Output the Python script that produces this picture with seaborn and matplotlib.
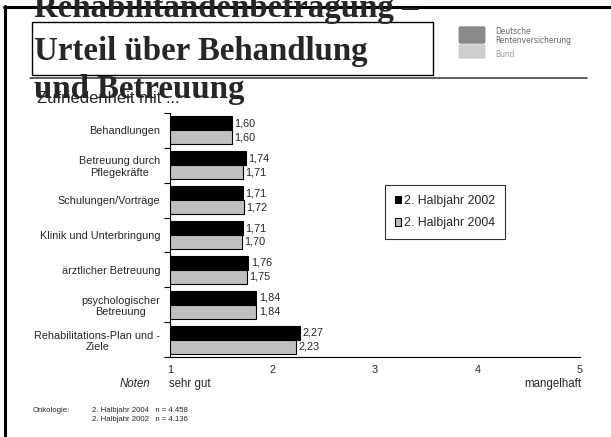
import pandas as pd
import seaborn as sns
import matplotlib.pyplot as plt
from matplotlib.patches import Rectangle, FancyBboxPatch
from matplotlib.lines import Line2D

# chart values
categories = ["Behandlungen", "Betreuung durch\nPflegekräfte", "Schulungen/Vorträge",
              "Klinik und Unterbringung", "ärztlicher Betreuung",
              "psychologischer\nBetreuung", "Rehabilitations-Plan und -\nZiele"]
series_names = ["2. Halbjahr 2002", "2. Halbjahr 2004"]
values_2002 = [1.60, 1.74, 1.71, 1.71, 1.76, 1.84, 2.27]
values_2004 = [1.60, 1.71, 1.72, 1.70, 1.75, 1.84, 2.23]
x_ticks = [1, 2, 3, 4, 5]

df = pd.DataFrame({
    "Kategorie": categories * 2,
    "Halbjahr": [series_names[0]] * len(categories) + [series_names[1]] * len(categories),
    "Note": values_2002 + values_2004,
})

sns.set_style("white")
plt.rcParams['font.family'] = ['Liberation Sans', 'DejaVu Sans']

W, H = 611, 437
fig = plt.figure(figsize=(W / 100, H / 100), dpi=100)


def fx(px):
    return px / W


def fy(py):
    return 1 - py / H


ax = fig.add_axes([fx(170), fy(357), fx(580) - fx(170), fy(113) - fy(357)])

sns.barplot(data=df, y="Kategorie", x="Note", hue="Halbjahr", orient="h",
            palette=["black", "#c0c0c0"], edgecolor="black", linewidth=0.8,
            width=0.8, ax=ax, legend=True)

ax.set_xlim(1, 5)
ax.set_ylim(len(categories) - 0.5, -0.5)
ax.set_xlabel("")
ax.set_ylabel("")
sns.despine(ax=ax)
for s in ["left", "bottom"]:
    ax.spines[s].set_color("black")
    ax.spines[s].set_linewidth(0.8)

# value labels with German decimal comma
for cont in ax.containers:
    labels = [f"{b.get_width():.2f}".replace(".", ",") for b in cont]
    ax.bar_label(cont, labels=labels, padding=2, fontsize=7.8)

ax.set_xticks(x_ticks)
ax.set_xticklabels([str(t) for t in x_ticks], fontsize=7.8)
ax.tick_params(axis="x", direction="out", length=4, width=0.8, color="black", pad=2)
ax.set_yticks(range(len(categories)))
ax.set_yticklabels(categories, fontsize=7.8)
ax.tick_params(axis="y", length=0, pad=7)
for lab in ax.get_yticklabels():
    lab.set_multialignment("center")
ax.set_yticks([i - 0.5 for i in range(len(categories) + 1)], minor=True)
ax.tick_params(axis="y", which="minor", direction="out", length=4, width=0.8, color="black", left=True)

fig.text(fx(169), fy(378), "sehr gut", ha="left", va="top", fontsize=8.3)
fig.text(fx(581), fy(378), "mangelhaft", ha="right", va="top", fontsize=8.3)
fig.text(fx(150), fy(387), "Noten", ha="right", va="baseline", fontsize=8.3, style="italic")

# legend
ax.legend_.remove()
handles = [Rectangle((0, 0), 1, 1, facecolor=c, edgecolor="black", linewidth=0.8)
           for c in ["black", "#c0c0c0"]]
leg = fig.legend(handles, series_names, loc="upper left",
                 bbox_to_anchor=(fx(385), fy(185)), fontsize=8.9, frameon=True,
                 fancybox=False, edgecolor="black", handlelength=0.5, handleheight=0.5,
                 handletextpad=0.2, labelspacing=0.85, borderpad=0.8, borderaxespad=0)
leg.get_frame().set_linewidth(0.8)

# frame and header
fig.add_artist(Line2D([fx(5), fx(5)], [fy(6), 0], color="black", lw=2.2))
fig.add_artist(Line2D([fx(4), 1], [fy(6.5), fy(6.5)], color="black", lw=2.2))
fig.add_artist(Line2D([fx(30), fx(587)], [fy(78), fy(78)], color="#444444", lw=1.2))
fig.add_artist(Rectangle((fx(32), fy(75)), fx(433) - fx(32), fy(22) - fy(75),
                         fill=False, edgecolor="black", lw=1.0))

title_lines = ["Rehabilitandenbefragung –", "Urteil über Behandlung", "und Betreuung"]
title_baselines = [17, 60, 98]
for line, base in zip(title_lines, title_baselines):
    fig.text(fx(34), fy(base), line, family="Liberation Serif", weight="bold",
             fontsize=23.7, ha="left", va="baseline")

fig.text(fx(37), fy(103), "Zufriedenheit mit ...", fontsize=12, ha="left", va="baseline")

# logo
fig.add_artist(FancyBboxPatch((fx(461), fy(42)), fx(483) - fx(461), fy(28) - fy(42),
                              boxstyle="round,pad=0.004", facecolor="#8a8a8a", edgecolor="none"))
fig.add_artist(FancyBboxPatch((fx(461), fy(57)), fx(483) - fx(461), fy(46) - fy(57),
                              boxstyle="round,pad=0.004", facecolor="#cfcfcf", edgecolor="none"))
logo_font = dict(family="DejaVu Sans", stretch="condensed", fontsize=6, va="baseline")
fig.text(fx(495), fy(34), "Deutsche", color="#666666", **logo_font)
fig.text(fx(495), fy(43), "Rentenversicherung", color="#666666", **logo_font)
fig.text(fx(495), fy(57), "Bund", color="#999999", **logo_font)

# footnote
fig.text(fx(33), fy(412), "Onkologie:", fontsize=5.6, va="baseline")
fig.text(fx(92), fy(412), "2. Halbjahr 2004   n = 4.458", fontsize=5.6, va="baseline")
fig.text(fx(92), fy(421), "2. Halbjahr 2002   n = 4.136", fontsize=5.6, va="baseline")

fig.savefig("out.png", dpi=100)
